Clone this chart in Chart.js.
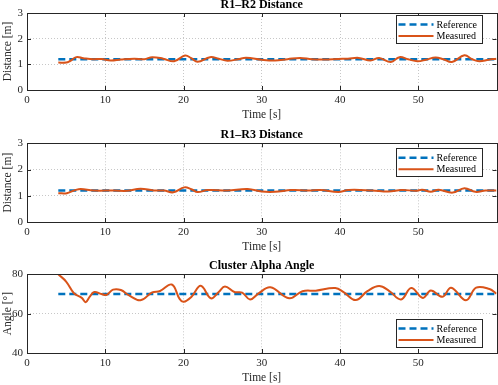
<!DOCTYPE html>
<html>
<head>
<meta charset="utf-8">
<script src="https://cdn.jsdelivr.net/npm/chart.js@4"></script>
<style>
  body { margin: 0; background: #fff; }
  canvas { position: absolute; left: 0; }
</style>
</head>
<body>
<canvas id="c1" width="498" height="124" style="top:0px"></canvas>
<canvas id="c2" width="498" height="132" style="top:124px"></canvas>
<canvas id="c3" width="498" height="129" style="top:256px"></canvas>
<script>
// R1-R2 distance (measured)
const time12 = [4, 5, 5.5, 6.3, 7.2, 8.5, 9.5, 10.7, 12, 13.7, 15, 16, 17.4, 18.8, 20.2, 21, 21.8, 23.4, 24.5, 25.6, 27, 28, 30, 31.7, 33.3, 34.9, 36.4, 38, 39.8, 41, 42.4, 43.9, 45, 46.5, 47.6, 48.7, 49.9, 51, 52.2, 53.2, 54.3, 55.9, 56.9, 57.8, 59, 60];
const dist12 = [1.07, 1.07, 1.13, 1.28, 1.24, 1.2, 1.21, 1.15, 1.19, 1.22, 1.2, 1.28, 1.22, 1.12, 1.34, 1.24, 1.1, 1.28, 1.22, 1.14, 1.2, 1.26, 1.18, 1.15, 1.2, 1.25, 1.2, 1.19, 1.21, 1.22, 1.25, 1.15, 1.25, 1.09, 1.28, 1.2, 1.12, 1.18, 1.27, 1.2, 1.09, 1.35, 1.2, 1.12, 1.18, 1.22];

// R1-R3 distance (measured)
const time13 = [4, 5.1, 6.6, 8.5, 11.1, 12.8, 14.5, 16.2, 17.5, 18.7, 20.1, 21, 21.8, 23.1, 25.6, 28.2, 30, 31.7, 33.8, 36, 37.5, 39.8, 41.1, 44.1, 46.2, 47.9, 49.7, 50.5, 51.6, 52.6, 54.4, 55.9, 57.3, 58.6, 60];
const dist13 = [1.1, 1.1, 1.25, 1.2, 1.2, 1.19, 1.27, 1.2, 1.2, 1.13, 1.32, 1.25, 1.14, 1.22, 1.2, 1.26, 1.16, 1.15, 1.22, 1.2, 1.22, 1.14, 1.22, 1.2, 1.16, 1.22, 1.19, 1.23, 1.15, 1.23, 1.12, 1.29, 1.15, 1.2, 1.2];

// Cluster alpha angle (measured)
const timeAng = [4, 5, 6, 7, 7.5, 8, 8.6, 9.5, 10.2, 11, 12, 13, 14.5, 16, 17, 18.5, 19.5, 20, 21, 22.2, 23.5, 24.5, 25.3, 26.5, 27.5, 28.5, 29.6, 31.1, 33.5, 35.2, 36.9, 39.4, 40.5, 42, 43.5, 45, 46.3, 47.8, 49.1, 50.6, 51.6, 53.1, 54.2, 56.1, 57.4, 59.1, 60];
const angle = [80, 76.3, 70.4, 68, 65.8, 68.5, 71, 70, 69.6, 72.2, 72, 69.4, 66.8, 70.8, 71.5, 74.8, 67.5, 66, 68.5, 74.2, 67.8, 71, 73.8, 71, 70.7, 67.2, 70.3, 73.4, 67.8, 71.4, 71.7, 73, 70.8, 66.9, 71.4, 74, 71.5, 67.2, 73, 68, 71.8, 68.6, 73.2, 66.8, 73.2, 72.5, 70.2];

// references
const refTime = [4, 60];
const refDist = [1.2, 1.2];
const refAngle = [70, 70];

const xTickValues = [0, 10, 20, 30, 40, 50];
const legendLabels = ['Reference', 'Measured'];
const FONT = "'Liberation Serif', 'Times New Roman', serif";
const BLUE = '#0072BD';
const ORANGE = '#D95319';

function pts(xs, ys) {
  return xs.map((x, i) => ({ x: x, y: ys[i] }));
}

// axes box, inward ticks, title and legend
const decorPlugin = {
  id: 'decor',
  afterDraw(chart, args, opts) {
    const ctx = chart.ctx;
    const a = chart.chartArea;
    const xs = chart.scales.x, ys = chart.scales.y;
    ctx.save();
    ctx.strokeStyle = '#262626';
    ctx.lineWidth = 1;
    ctx.beginPath();
    xs.ticks.forEach(t => {
      const px = Math.round(xs.getPixelForValue(t.value)) + 0.5;
      ctx.moveTo(px, a.bottom); ctx.lineTo(px, a.bottom - 4);
      ctx.moveTo(px, a.top); ctx.lineTo(px, a.top + 4);
    });
    ys.ticks.forEach(t => {
      const py = Math.round(ys.getPixelForValue(t.value)) + 0.5;
      ctx.moveTo(a.left, py); ctx.lineTo(a.left + 4, py);
      ctx.moveTo(a.right, py); ctx.lineTo(a.right - 4, py);
    });
    ctx.stroke();
    ctx.strokeRect(Math.round(a.left) + 0.5, Math.round(a.top) + 0.5,
      Math.round(a.right - a.left), Math.round(a.bottom - a.top));

    // title
    ctx.fillStyle = '#000';
    ctx.font = 'bold 12px ' + FONT;
    ctx.textAlign = 'center';
    ctx.textBaseline = 'middle';
    ctx.fillText(opts.title, (a.left + a.right) / 2, a.top - 8.5);

    // legend
    const bx = 395.5, bw = 86, bh = 28;
    const by = opts.legendTop != null ? a.top + opts.legendTop : a.bottom - opts.legendBottom - bh;
    ctx.fillStyle = '#fff';
    ctx.fillRect(bx, by, bw, bh);
    ctx.strokeStyle = '#262626';
    ctx.strokeRect(Math.round(bx) + 0.5, Math.round(by) + 0.5, bw, bh);
    const ds = [chart.data.datasets[1], chart.data.datasets[0]];
    ctx.font = '10px ' + FONT;
    ctx.textAlign = 'left';
    ds.forEach((d, i) => {
      const ry = by + 9.5 + i * 11.5;
      ctx.beginPath();
      ctx.strokeStyle = d.borderColor;
      ctx.lineWidth = d.borderWidth;
      ctx.setLineDash(d.borderDash || []);
      ctx.moveTo(bx + 3, ry);
      ctx.lineTo(bx + 38, ry);
      ctx.stroke();
      ctx.setLineDash([]);
      ctx.fillStyle = '#000';
      ctx.fillText(legendLabels[i], bx + 41, ry + 0.5);
    });
    ctx.restore();
  }
};

function makeChart(id, cfg) {
  new Chart(document.getElementById(id), {
    type: 'line',
    data: {
      datasets: [
        {
          data: pts(cfg.mx, cfg.my),
          borderColor: ORANGE,
          borderWidth: 2,
          pointRadius: 0,
          tension: 0.4,
          fill: false
        },
        {
          data: pts(refTime, cfg.ref),
          borderColor: BLUE,
          borderWidth: 2.5,
          borderDash: [7, 4],
          pointRadius: 0,
          fill: false
        }
      ]
    },
    options: {
      responsive: false,
      animation: false,
      layout: { padding: { top: cfg.top, right: 1.5, left: 0, bottom: 0 } },
      plugins: {
        legend: { display: false },
        tooltip: { enabled: false },
        decor: { title: cfg.title, legendTop: cfg.legendTop, legendBottom: cfg.legendBottom }
      },
      scales: {
        x: {
          type: 'linear',
          min: 0,
          max: 60,
          afterFit: s => { s.height = cfg.axisH; },
          afterBuildTicks: s => { s.ticks = xTickValues.map(v => ({ value: v })); },
          ticks: { padding: 4, color: '#262626', font: { family: FONT, size: 11 }, callback: v => String(v) },
          grid: { color: 'rgba(0,0,0,0.22)', drawTicks: false },
          border: { display: false, dash: [1, 2] },
          title: { display: true, text: 'Time [s]', color: '#262626', font: { family: FONT, size: 11.5 }, padding: { top: 0, bottom: cfg.titlePad } }
        },
        y: {
          min: cfg.ymin,
          max: cfg.ymax,
          afterFit: s => { s.width = 27; },
          ticks: { stepSize: cfg.ystep, padding: 4, color: '#262626', font: { family: FONT, size: 11 } },
          grid: { color: 'rgba(0,0,0,0.22)', drawTicks: false },
          border: { display: false, dash: [1, 2] },
          title: { display: true, text: cfg.ylabel, color: '#262626', font: { family: FONT, size: 11.5 }, padding: { top: 1, bottom: 0 } }
        }
      }
    },
    plugins: [decorPlugin]
  });
}

makeChart('c1', { mx: time12, my: dist12, ref: refDist, title: 'R1\u2013R2 Distance', ylabel: 'Distance [m]',
  ymin: 0, ymax: 3, ystep: 1, top: 13, axisH: 34, titlePad: 2, legendTop: 2 });
makeChart('c2', { mx: time13, my: dist13, ref: refDist, title: 'R1\u2013R3 Distance', ylabel: 'Distance [m]',
  ymin: 0, ymax: 3, ystep: 1, top: 19.3, axisH: 34, titlePad: 2, legendTop: 5 });
makeChart('c3', { mx: timeAng, my: angle, ref: refAngle, title: 'Cluster Alpha Angle', ylabel: 'Angle [\u00b0]',
  ymin: 40, ymax: 80, ystep: 20, top: 18.3, axisH: 32, titlePad: 0.5, legendBottom: 6 });
</script>
</body>
</html>
